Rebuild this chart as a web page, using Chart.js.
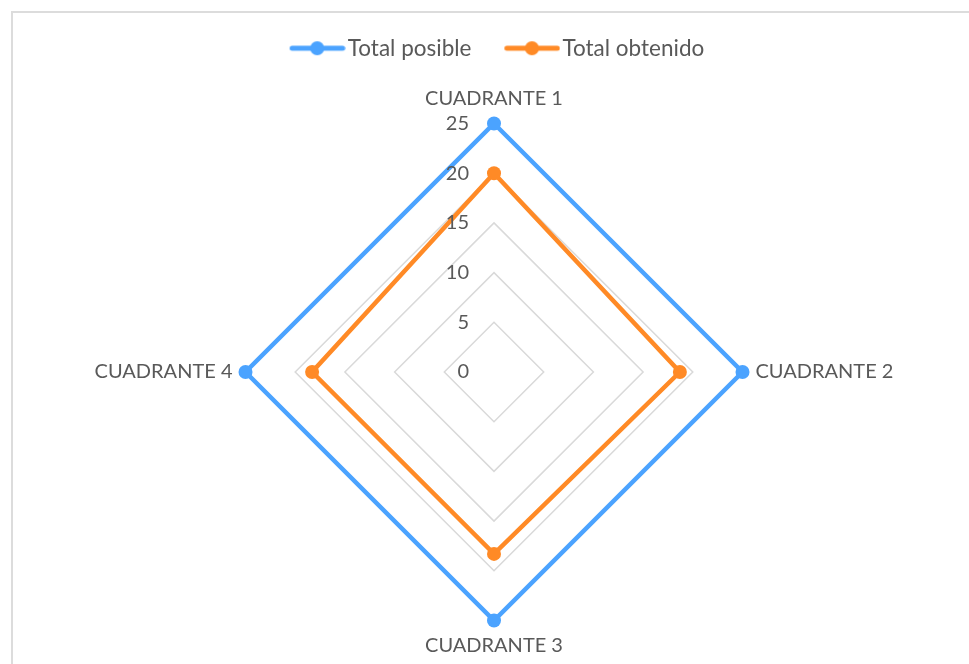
<!DOCTYPE html>
<html>
<head>
<meta charset="utf-8">
<script src="https://cdn.jsdelivr.net/npm/chart.js@4"></script>
<style>
  html, body { margin: 0; padding: 0; background: #fff; }
  #frame { position: absolute; left: 11px; top: 11px; width: 1000px; height: 1000px; border: 2px solid #dcdcdc; box-sizing: border-box; }
  #wrap { position: absolute; left: 0; top: 0; width: 969px; height: 664px; }
</style>
</head>
<body>
<div id="frame"></div>
<div id="wrap"><canvas id="c" width="969" height="664"></canvas></div>
<script>
const categories = ['CUADRANTE 1', 'CUADRANTE 2', 'CUADRANTE 3', 'CUADRANTE 4'];
const totalPosible = [25, 25, 25, 25];
const totalObtenido = [20, 18.7, 18.3, 18.3];
const seriesNames = ['Total posible', 'Total obtenido'];
const tickStep = 5;
const scaleMin = 0;
const scaleMax = 25;

const BLUE = '#4ba3ff';
const ORANGE = '#ff8a26';
const FONT = 'Lato';

function legendMarker(color) {
  const cv = document.createElement('canvas');
  cv.width = 84; cv.height = 16;
  const g = cv.getContext('2d');
  g.strokeStyle = color; g.lineWidth = 5; g.lineCap = 'round';
  g.beginPath(); g.moveTo(30.5, 8); g.lineTo(81, 8); g.stroke();
  g.fillStyle = color; g.beginPath(); g.arc(55.6, 8, 7, 0, Math.PI * 2); g.fill();
  return cv;
}

const tickLabelPlugin = {
  id: 'tickLabels',
  afterDatasetsDraw(chart) {
    const s = chart.scales.r;
    const ctx = chart.ctx;
    ctx.save();
    ctx.font = '20px ' + FONT;
    ctx.fillStyle = '#595959';
    ctx.textAlign = 'right';
    ctx.textBaseline = 'middle';
    s.ticks.forEach(t => {
      const d = s.getDistanceFromCenterForValue(t.value);
      ctx.fillText(String(t.value), s.xCenter - 25, s.yCenter - d);
    });
    ctx.restore();
  }
};

const legendSpacer = {
  id: 'legendSpacer',
  beforeInit(chart) {
    const orig = chart.legend.fit;
    chart.legend.fit = function () {
      orig.call(this);
      this.height += 17;
    };
  },
  afterLayout(chart) {
    chart.legend.left -= 7;
    chart.legend.right -= 7;
  }
};

new Chart(document.getElementById('c'), {
  type: 'radar',
  data: {
    labels: categories,
    datasets: [
      { label: seriesNames[0], data: totalPosible, borderColor: BLUE, backgroundColor: BLUE,
        borderWidth: 4.5, pointRadius: 7, pointBorderWidth: 0, pointBackgroundColor: BLUE, fill: false },
      { label: seriesNames[1], data: totalObtenido, borderColor: ORANGE, backgroundColor: ORANGE,
        borderWidth: 4.5, pointRadius: 7, pointBorderWidth: 0, pointBackgroundColor: ORANGE, fill: false }
    ]
  },
  options: {
    responsive: false,
    animation: false,
    devicePixelRatio: 1,
    layout: { padding: { top: 23, left: 20, right: 0, bottom: 5 } },
    plugins: {
      legend: {
        position: 'top',
        labels: {
          font: { family: FONT, size: 22.5 },
          color: '#595959',
          usePointStyle: true,
          pointStyleWidth: 65.75,
          padding: 14,
          generateLabels(chart) {
            return chart.data.datasets.map((ds, i) => ({
              text: ds.label,
              fillStyle: ds.borderColor,
              strokeStyle: ds.borderColor,
              fontColor: '#595959',
              lineWidth: 0,
              pointStyle: legendMarker(ds.borderColor),
              datasetIndex: i,
              hidden: false
            }));
          }
        }
      },
      tooltip: { enabled: false }
    },
    scales: {
      r: {
        min: scaleMin,
        max: scaleMax,
        ticks: { stepSize: tickStep, display: false },
        grid: { color: '#d9d9d9', lineWidth: 1.5 },
        angleLines: { display: false },
        pointLabels: { font: { family: FONT, size: 20 }, color: '#595959', padding: 13 }
      }
    }
  },
  plugins: [tickLabelPlugin, legendSpacer]
});
</script>
</body>
</html>
